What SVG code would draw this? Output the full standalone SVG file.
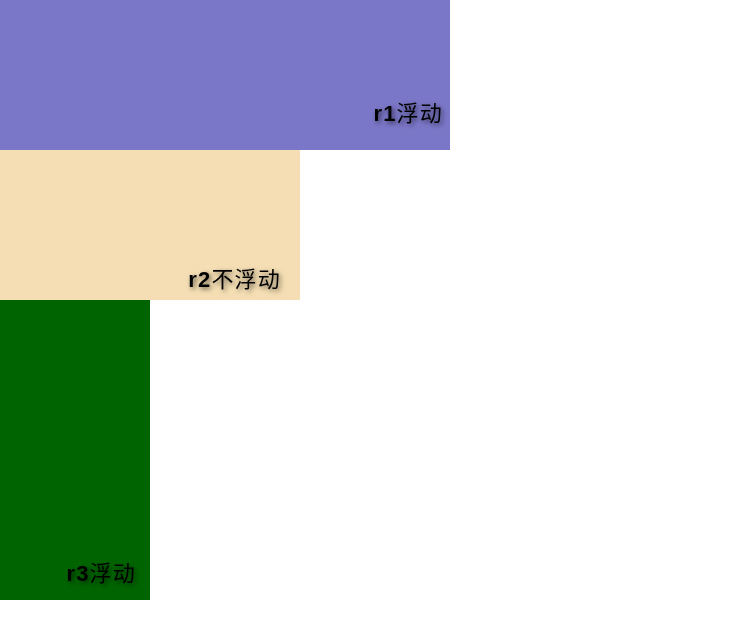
<svg xmlns="http://www.w3.org/2000/svg" width="741" height="620" viewBox="0 0 741 620">
<defs>
<filter id="sh" x="-20%" y="-50%" width="140%" height="200%">
<feDropShadow dx="2" dy="2" stdDeviation="2.5" flood-color="#000" flood-opacity="0.6"/>
</filter>
</defs>
<style>
.t{font-family:"Liberation Sans","Noto Sans CJK SC",sans-serif;font-size:22px;letter-spacing:1.2px;fill:#000;text-anchor:end;filter:url(#sh)}
.b{font-weight:bold}
</style>
<rect width="741" height="620" fill="#fff"/>
<g id="r1">
<rect x="0" y="0" width="450" height="150" fill="#7B77C8"/>
<text class="t" x="443" y="121"><tspan class="b">r1</tspan>浮动</text>
</g>
<g id="r2">
<rect x="0" y="150" width="300" height="150" fill="#F5DEB3"/>
<text class="t" x="281" y="287"><tspan class="b">r2</tspan>不浮动</text>
</g>
<g id="r3">
<rect x="0" y="300" width="150" height="300" fill="#006400"/>
<text class="t" x="136" y="581"><tspan class="b">r3</tspan>浮动</text>
</g>
<g id="connectors"/>
</svg>
